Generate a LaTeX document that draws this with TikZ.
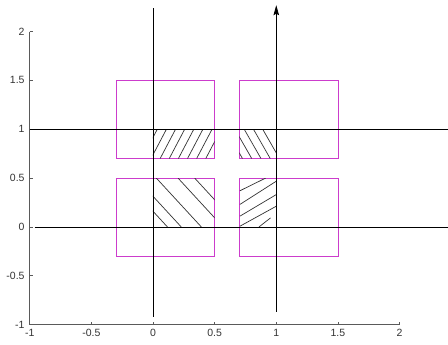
\documentclass[tikz,border=0pt]{standalone}
\usepackage{fontspec}
\setmainfont{Liberation Sans}
\usetikzlibrary{arrows.meta}
\definecolor{axisgray}{RGB}{90,90,90}
\definecolor{boxmag}{RGB}{204,60,204}
\begin{document}
\begin{tikzpicture}[x=123.3pt,y=97.7pt,
  axisline/.style={axisgray,line width=0.8pt},
  ticklab/.style={font=\fontsize{10.5pt}{12pt}\selectfont,text=black!80,inner sep=0pt},
  mainline/.style={black,line width=0.8pt},
  boxline/.style={boxmag,line width=0.8pt},
  hatchline/.style={black!80,line width=0.7pt}]
\useasboundingbox[fill=white] (-1.241,-1.208) rectangle (2.393,2.323);
% axes
\coordinate (o) at (-1,-1);
\draw[axisline] (-1,2) -- (o) -- (2,-1);
\foreach \v in {-1,-0.5,0,0.5,1,1.5,2}{
  \draw[axisline] (-1,\v) -- ++(3pt,0);
  \node[ticklab,anchor=east] at ([xshift=-5pt]-1,\v) {\v};
  \draw[axisline] (\v,-1) -- ++(0,3pt);
  \node[ticklab,anchor=north] at ([yshift=-4pt]\v,-1) {\v};
}
% magenta boxes
\draw[boxline] (-0.3,0.7) rectangle (0.5,1.5);
\draw[boxline] (0.7,0.7) rectangle (1.5,1.5);
\draw[boxline] (-0.3,-0.3) rectangle (0.5,0.5);
\draw[boxline] (0.7,-0.3) rectangle (1.5,0.5);
% hatching top-left
\begin{scope}
\clip (0,0.7) rectangle (0.5,1);
\foreach \k in {0,...,7}{
  \draw[hatchline] ({-0.09+0.074*\k},0.7) -- ++(0.125,0.3);
}
\end{scope}
% hatching top-right
\begin{scope}
\clip (0.7,0.7) rectangle (1,1);
\foreach \b in {0.59,0.665,0.74,0.815,0.89}{
  \draw[hatchline] (\b,1) -- ++(0.136,-0.3);
}
\end{scope}
% hatching bottom-left
\begin{scope}
\clip (0,0) rectangle (0.5,0.5);
\foreach \b in {-0.248,-0.136,0.027,0.203,0.338}{
  \draw[hatchline] (\b,0.5) -- ++(0.365,-0.5);
}
\end{scope}
% hatching bottom-right
\begin{scope}
\clip (0.7,0) rectangle (1,0.5);
\draw[hatchline] (0.705,0.37) -- (0.914,0.5);
\draw[hatchline] (0.705,0.23) -- (1.0,0.468);
\draw[hatchline] (0.705,0.11) -- (1.0,0.331);
\draw[hatchline] (0.705,0.007) -- (1.0,0.212);
\draw[hatchline] (0.86,0) -- (0.953,0.092);
\end{scope}
% main lines
\coordinate (h1a) at (-1,1);
\coordinate (h1b) at (2.393,1);
\coordinate (h0a) at (-0.96,0);
\coordinate (h0b) at (2.393,0);
\coordinate (v0a) at (0,-0.92);
\coordinate (v0b) at (0,2.24);
\coordinate (v1a) at (1,-0.87);
\coordinate (v1b) at (1,2.27);
\draw[mainline] (h1a) -- (h1b);
\draw[mainline] (h0a) -- (h0b);
\draw[mainline] (v0a) -- (v0b);
\draw[mainline,-{Stealth[length=10pt,width=5.5pt,inset=1.5pt]}] (v1a) -- (v1b);
\end{tikzpicture}
\end{document}
